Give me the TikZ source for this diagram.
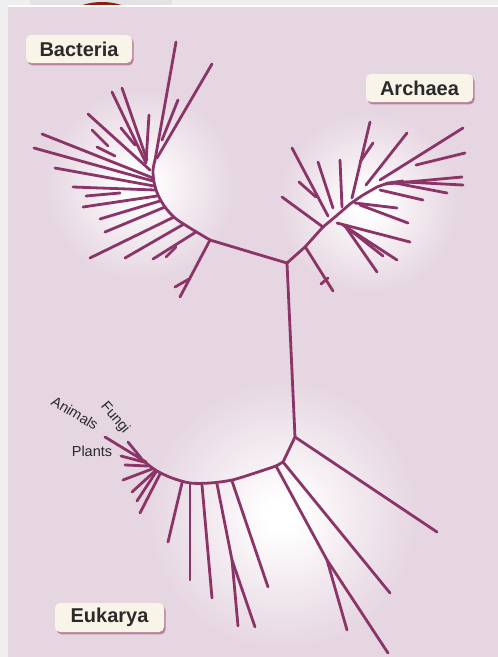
\documentclass[tikz,border=0pt]{standalone}
\usepackage{fontspec}
\setmainfont{Liberation Sans}
\usetikzlibrary{shadows}
\definecolor{bgout}{HTML}{EFEFEF}
\definecolor{stripc}{HTML}{E3E3E6}
\definecolor{capred}{HTML}{8E1D12}
\definecolor{panel}{HTML}{E6D6E1}
\definecolor{treec}{HTML}{8A3468}
\definecolor{boxfill}{HTML}{F8F4E8}
\definecolor{shadowc}{HTML}{B9819F}
\definecolor{txt}{HTML}{2A2A2A}
\pgfdeclareradialshading{glow}{\pgfpoint{0bp}{0bp}}{color(0bp)=(white); color(3bp)=(white); color(12bp)=(white!55!panel); color(25bp)=(panel); color(50bp)=(panel)}
\tikzset{
  br/.style={treec, line width=2.8pt, line cap=round, line join=round},
  domainbox/.style={fill=boxfill, rounded corners=5pt, inner sep=0pt, text=txt,
    font=\bfseries\fontsize{20}{24}\selectfont,
    drop shadow={shadow xshift=1.6pt, shadow yshift=-2.4pt, fill=shadowc, opacity=1}},
  grp/.style={text=txt, inner sep=0pt, font=\fontsize{14.5}{17}\selectfont}
}
\begin{document}
\begin{tikzpicture}[x=1pt,y=-1pt]
\useasboundingbox (0,0) rectangle (498,657);
% surroundings
\fill[bgout] (0,0) rectangle (498,657);
\fill[stripc] (30,0) rectangle (172,6);
\begin{scope}
  \clip (0,0) rectangle (498,6);
  \fill[capred] (102,66) circle (64);
\end{scope}
\fill[white] (8,5) rectangle (498,7);
\fill[panel] (8,7) rectangle (498,657);
% glows
\shade[shading=glow] (140,185) circle (95);
\shade[shading=glow] (368,203) circle (90);
\shade[shading=glow] (282,515) circle (135);

% main junctions
\coordinate (R1) at (287,263);
\coordinate (R2) at (295,437);
\coordinate (B0) at (210,240);
\coordinate (E1) at (283,462);
\coordinate (E2) at (276,466);
\draw[br] (R1) -- (R2);

% ---------- Bacteria ----------
\draw[br] (R1) -- (250,252) -- (B0);
\draw[br] plot[smooth] coordinates {(B0) (190,228) (175,218) (165,207) (158,195) (154,182) (153,170) (155,160)};
\foreach \a/\b in {
  {(155,160)}/{(176,42)}, {(157,158)}/{(212,64)}, {(162,140)}/{(178,100)},
  {(146,162)}/{(149,115)}, {(146,163)}/{(112,92)}, {(147,160)}/{(122,88)},
  {(135,145)}/{(121,128)}, {(150,170)}/{(88,114)}, {(108,146)}/{(92,130)},
  {(115,156)}/{(97,147)}, {(153,178)}/{(42,134)}, {(153,181)}/{(34,148)},
  {(154,186)}/{(55,168)}, {(155,190)}/{(73,187)}, {(120,193)}/{(86,196)},
  {(157,196)}/{(83,207)}, {(160,201)}/{(100,219)}, {(165,207)}/{(105,232)},
  {(174,217)}/{(90,258)}, {(184,224)}/{(125,258)}, {(196,232)}/{(153,259)},
  {(176,247)}/{(166,257)}, {(B0)}/{(180,297)}, {(189,279)}/{(175,287)}}
  \draw[br] \a -- \b;

% ---------- Archaea ----------
\draw[br] (R1) -- (305,247) -- (323,227) -- (335,217) -- (350,204) -- (363,195) -- (377,187) -- (388,183) -- (403,181);
\foreach \a/\b in {
  {(306,248)}/{(333,291)}, {(328,278)}/{(321,284)},
  {(323,227)}/{(282,197)}, {(328,216)}/{(292,148)}, {(316,197)}/{(299,182)},
  {(333,208)}/{(318,162)}, {(342,207)}/{(340,160)}, {(352,198)}/{(370,122)},
  {(360,162)}/{(373,143)}, {(366,185)}/{(407,133)}, {(380,180)}/{(463,128)},
  {(416,165)}/{(465,153)}, {(386,184)}/{(462,177)}, {(405,182)}/{(463,185)},
  {(395,183)}/{(447,193)}, {(380,190)}/{(423,200)}, {(355,203)}/{(397,208)},
  {(360,205)}/{(408,223)}, {(337,223)}/{(410,242)}, {(343,225)}/{(397,260)},
  {(345,226)}/{(377,272)}, {(350,230)}/{(383,256)}}
  \draw[br] \a -- \b;

% ---------- Eukarya ----------
\draw[br] (R2) -- (E1) -- (E2);
\draw[br] plot[smooth] coordinates {(E2) (255,473) (232,480) (210,483) (190,483) (172,478) (157,471) (146,463) (137,455)};
\draw[br] (R2) -- (437,532);
\draw[br] (E1) -- (390,593);
\draw[br] (E2) -- (327,560) coordinate (E3) -- (388,653);
\draw[br] (E3) -- (347,630);
\draw[br] (232,481) -- (268,587);
\draw[br] (217,484) -- (232,560) coordinate (E4) -- (238,626);
\draw[br] (E4) -- (255,627);
\foreach \a/\b in {
  {(202,485)}/{(212,598)}, {(190,484)}/{(190,580)}, {(182,483)}/{(168,542)},
  {(146,462)}/{(105,437)}, {(141,458)}/{(128,442)}, {(144,462)}/{(121,456)},
  {(148,466)}/{(125,465)}, {(152,469)}/{(123,480)}, {(155,471)}/{(132,492)},
  {(156,472)}/{(137,501)}, {(160,474)}/{(140,513)}}
  \draw[br] \a -- \b;

% ---------- labels ----------
\node[domainbox, minimum width=106pt, minimum height=28pt] (bact) at (79,49) {Bacteria};
\node[domainbox, minimum width=107pt, minimum height=28pt] (arch) at (419.5,88) {Archaea};
\node[domainbox, minimum width=109pt, minimum height=29pt] (euk) at (109.5,617.5) {Eukarya};
\node[grp, rotate=-31] (animals) at (75,413) {Animals};
\node[grp, rotate=-50] (fungi) at (115,418) {Fungi};
\node[grp] (plants) at (92,451) {Plants};
\end{tikzpicture}
\end{document}
